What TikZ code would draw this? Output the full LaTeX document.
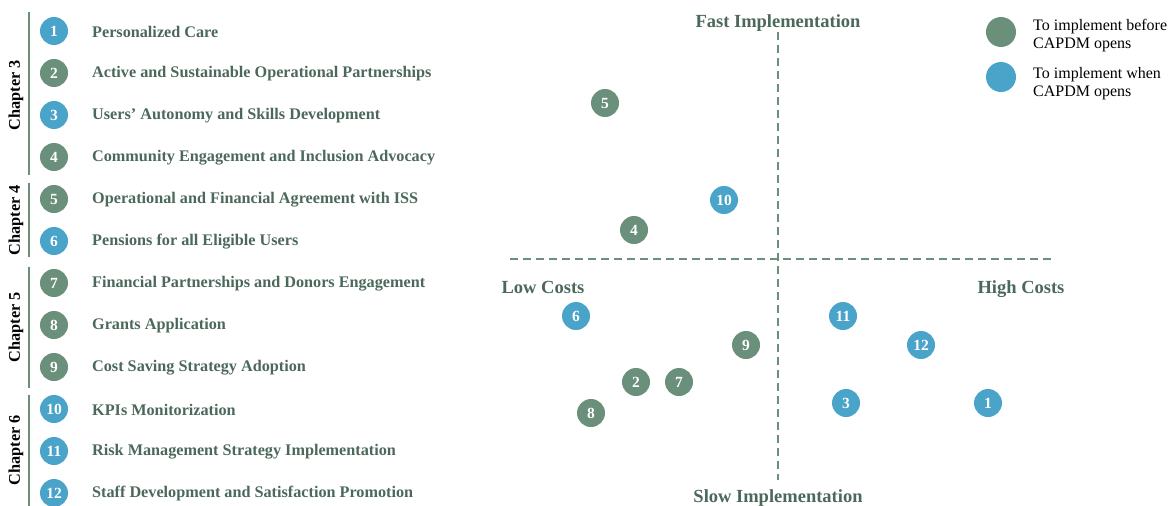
\documentclass[tikz,border=0pt]{standalone}
\usepackage{fontspec}
\setmainfont{Liberation Serif}
\begin{document}
\definecolor{sage}{HTML}{6A8F7B}
\definecolor{sky}{HTML}{4AA3C9}
\definecolor{ink}{HTML}{4B685A}
\tikzset{
  x=1pt, y=-1pt,
  dot/.style={circle, minimum size=28pt, inner sep=0pt, text=white,
              font=\fontsize{15.5}{15.5}\selectfont\bfseries},
  pre/.style={dot, fill=sage},
  post/.style={dot, fill=sky},
  item/.style={anchor=west, text=ink, font=\fontsize{16.2}{17}\selectfont\bfseries, inner sep=0pt},
  chap/.style={rotate=90, text=black, font=\fontsize{16.3}{17}\selectfont\bfseries, inner sep=0pt},
  bracket/.style={draw=sage, line width=2.2pt},
  axis/.style={draw=sage, line width=2.8pt, dash pattern=on 8pt off 5pt},
  axlabel/.style={text=ink, font=\fontsize{18.5}{19}\selectfont\bfseries, inner sep=0pt},
  legtext/.style={anchor=west, align=left, text=black, font=\fontsize{16}{18}\selectfont, inner sep=0pt}
}
\begin{tikzpicture}
\useasboundingbox (0,0) rectangle (1170,506);

% chapter brackets
\draw[bracket] (29,12) -- (29,175);
\draw[bracket] (29,183) -- (29,257);
\draw[bracket] (29,267) -- (29,388);
\draw[bracket] (29,395) -- (29,506);
\node[chap] (c3) at (16,95) {Chapter 3};
\node[chap] (c4) at (16,220) {Chapter 4};
\node[chap] (c5) at (16,327) {Chapter 5};
\node[chap] (c6) at (16,450) {Chapter 6};

% list of measures
\foreach \n/\s/\t [count=\i] in {
  1/post/Personalized Care,
  2/pre/Active and Sustainable Operational Partnerships,
  3/post/Users’ Autonomy and Skills Development,
  4/pre/Community Engagement and Inclusion Advocacy,
  5/pre/Operational and Financial Agreement with ISS,
  6/post/Pensions for all Eligible Users,
  7/pre/Financial Partnerships and Donors Engagement,
  8/pre/Grants Application,
  9/pre/Cost Saving Strategy Adoption,
  10/post/KPIs Monitorization,
  11/post/Risk Management Strategy Implementation,
  12/post/Staff Development and Satisfaction Promotion}{
  \node[\s] (l\n) at (54,{31+42*(\i-1)}) {\n};
  \node[item] (t\n) at (92,{32+42*(\i-1)}) {\t};
}

% axes
\coordinate (top) at (778,32);
\coordinate (bot) at (778,480);
\coordinate (lft) at (510,259);
\coordinate (rgt) at (1052,259);
\draw[axis] (top) -- (bot);
\draw[axis] (lft) -- (rgt);
\node[axlabel] (fast) at (778,23) {Fast Implementation};
\node[axlabel] (slow) at (778,498) {Slow Implementation};
\node[axlabel] (low) at (543,287) {Low Costs};
\node[axlabel] (high) at (1021,289) {High Costs};

% positioned measures
\node[pre]  (p5)  at (605,103) {5};
\node[post] (p10) at (724,200) {10};
\node[pre]  (p4)  at (634,230) {4};
\node[post] (p6)  at (576,316) {6};
\node[post] (p11) at (843,316) {11};
\node[pre]  (p9)  at (746,345) {9};
\node[post] (p12) at (921,345) {12};
\node[pre]  (p2)  at (636,382) {2};
\node[pre]  (p7)  at (679,382) {7};
\node[pre]  (p8)  at (591,413) {8};
\node[post] (p3)  at (846,403) {3};
\node[post] (p1)  at (988,403) {1};

% legend
\node[pre, minimum size=30pt]  (k1) at (1001,32) {};
\node[post, minimum size=30pt] (k2) at (1001,77) {};
\node[legtext] (kt1) at (1033,36) {To implement before\\CAPDM opens};
\node[legtext] (kt2) at (1033,84) {To implement when\\CAPDM opens};
\end{tikzpicture}
\end{document}
